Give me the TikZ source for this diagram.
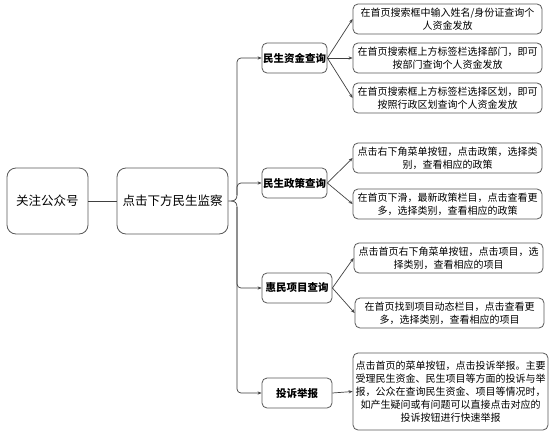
\documentclass[tikz,border=0pt]{standalone}
\usepackage{fontspec}
\setmainfont{Noto Sans CJK SC}
\usetikzlibrary{arrows.meta}
\begin{document}
\begin{tikzpicture}[x=1pt,y=-1pt,
  box/.style={draw=black!65, line width=0.8pt, rounded corners=5pt, align=center, inner sep=1pt},
  topbox/.style={box, rounded corners=9pt, font=\fontsize{12.5}{15}\selectfont},
  midbox/.style={box, minimum height=30pt, font=\fontsize{10.5}{13}\selectfont\bfseries},
  leaf/.style={box, minimum width=189pt, minimum height=30pt, font=\fontsize{10}{13}\selectfont},
  conn/.style={draw=black!75, line width=0.7pt},
  arr/.style={conn, -{Stealth[length=4pt,width=3.2pt]}}
]
\useasboundingbox (0,0) rectangle (554,434);
\fill[white] (0,0) rectangle (554,434);

% level 1
\node[topbox, minimum width=81pt, minimum height=66pt] (A) at (47.5,201) {关注公众号};
\node[topbox, minimum width=111pt, minimum height=66pt] (B) at (172.5,201) {点击下方民生监察};

% level 2
\node[midbox, minimum width=65pt] (M1) at (294.5,58) {民生资金查询};
\node[midbox, minimum width=65pt] (M2) at (294.5,183) {民生政策查询};
\node[midbox, minimum width=70pt] (M3) at (297,288) {惠民项目查询};
\node[midbox, minimum width=70pt] (M4) at (297,393) {投诉举报};

% level 3
\node[leaf] (L1) at (447.5,19) {在首页搜索框中输入姓名/身份证查询个\\人资金发放};
\node[leaf] (L2) at (447.5,58) {在首页搜索框上方标签栏选择部门，即可\\按部门查询个人资金发放};
\node[leaf] (L3) at (447.5,98) {在首页搜索框上方标签栏选择区划，即可\\按照行政区划查询个人资金发放};
\node[leaf] (L4) at (447.5,158) {点击右下角菜单按钮，点击政策，选择类\\别，查看相应的政策};
\node[leaf] (L5) at (447.5,204) {在首页下滑，最新政策栏目，点击查看更\\多，选择类别，查看相应的政策};
\node[leaf] (L6) at (448.5,258) {点击首页右下角菜单按钮，点击项目，选\\择类别，查看相应的项目};
\node[leaf, minimum width=189pt] (L7) at (449.5,313) {在首页找到项目动态栏目，点击查看更\\多，选择类别，查看相应的项目};
\node[leaf, minimum width=195pt, minimum height=77pt] (L8) at (450.5,391.5) {点击首页的菜单按钮，点击投诉举报。主要\\受理民生资金、民生项目等方面的投诉与举\\报，公众在查询民生资金、项目等情况时，\\如产生疑问或有问题可以直接点击对应的\\投诉按钮进行快速举报};

% connectors level 1
\draw[conn] (A) -- (B);
\coordinate (tip) at (231,201);
\coordinate (bu) at (237,195);
\coordinate (bd) at (237,207);
\draw[conn] (B.east) -- (tip) .. controls (235,201) and (237,199) .. (bu);
\draw[conn] (tip) .. controls (235,201) and (237,203) .. (bd);
\draw[arr, rounded corners=4pt] (bu) |- (M1.west);
\draw[arr, rounded corners=4pt] (bu) |- (M2.west);
\draw[arr, rounded corners=4pt] (bd) |- (M3.west);
\draw[arr, rounded corners=4pt] (bd) |- (M4.west);

% connectors level 2
\draw[arr] (M1.east) -- (L1.west);
\draw[arr] (M1.east) -- (L2.west);
\draw[arr] (M1.east) -- (L3.west);
\draw[arr] (M2.east) -- (L4.west);
\draw[arr] (M2.east) -- (L5.west);
\draw[arr] (M3.east) -- (L6.west);
\draw[arr] (M3.east) -- (L7.west);
\draw[arr] (M4.east) -- (L8.west);
\end{tikzpicture}
\end{document}
